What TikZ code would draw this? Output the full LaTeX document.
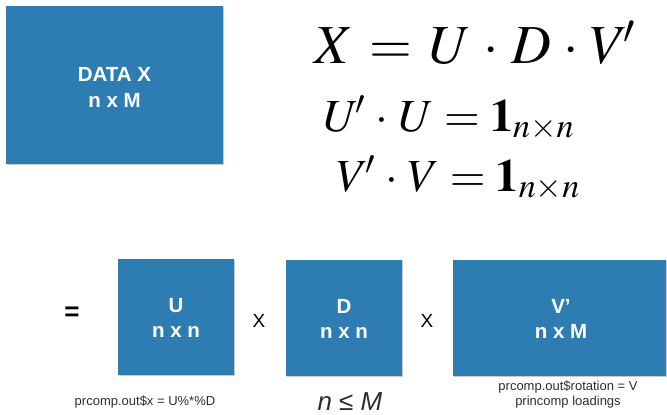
\documentclass[tikz,border=0pt]{standalone}
\usepackage{mathptmx}
\usepackage[no-math]{fontspec}
\setmainfont{Liberation Sans}
\usetikzlibrary{shadows}
\definecolor{boxblue}{RGB}{46,125,178}
\definecolor{captiongray}{RGB}{45,45,45}
\tikzset{
  mbox/.style={fill=boxblue, draw=none, drop shadow={shadow xshift=0.8pt, shadow yshift=-1.2pt, opacity=0.35, fill=black!60}},
  boxlabel/.style={text=white, font=\bfseries\fontsize{20.5}{25.5}\selectfont, align=center, inner sep=0pt},
  eqtext/.style={anchor=base west, inner sep=0pt},
  optext/.style={font=\fontsize{19}{22}\selectfont, inner sep=0pt},
  captext/.style={text=captiongray, font=\fontsize{13}{15}\selectfont, anchor=base, inner sep=0pt},
}
\newcommand{\eqsp}{\mskip1.5mu}
\newcommand{\eqspb}{\mskip1.5mu}
\begin{document}
\begin{tikzpicture}[x=1pt,y=-1pt]
\useasboundingbox (0,0) rectangle (667,415);
% top data box
\path[mbox] (6,6) rectangle (223,164);
\node[boxlabel, font=\bfseries\fontsize{20.5}{26}\selectfont] (datax) at (114.5,87) {DATA X\\n x M};
% equations
\node[eqtext, font=\fontsize{55}{60}\selectfont] (eq1) at (314,63) {$X \eqsp=\eqsp U \eqsp\cdot\eqsp D \eqsp\cdot\eqsp V^{\!\prime}$};
\node[eqtext, font=\fontsize{46}{50}\selectfont] (eq2) at (324,131) {$U^{\!\prime} \eqspb\cdot\eqspb U = \mathbf{1}_{n\times n}$};
\node[eqtext, font=\fontsize{46}{50}\selectfont] (eq3) at (337,191) {$V^{\!\prime} \eqspb\cdot\eqspb V = \mathbf{1}_{n\times n}$};
% bottom boxes
\path[mbox] (118,259) rectangle (234,375);
\path[mbox] (286,260) rectangle (402,376);
\path[mbox] (453,260) rectangle (666,376);
\node[boxlabel] (ubox) at (176,318) {U\\n x n};
\node[boxlabel] (dbox) at (344,319) {D\\n x n};
\node[boxlabel] (vbox) at (561,319) {V’\\n x M};
% operators
\node[inner sep=0pt, font=\bfseries\fontsize{26}{28}\selectfont] (eqsign) at (72,314) {=};
\node[optext] (times1) at (259,321) {X};
\node[optext] (times2) at (427,321) {X};
% captions
\node[captext] (capu) at (145,405) {prcomp.out\$x = U\%*\%D};
\node[captext, align=center] (capv1) at (568,390) {prcomp.out\$rotation = V};
\node[captext] (capv2) at (568,405) {princomp loadings};
\node[anchor=base, inner sep=0pt, text=captiongray, font=\itshape\fontsize{26}{28}\selectfont] (nleqm) at (350,410) {n ≤ M};
\end{tikzpicture}
\end{document}
